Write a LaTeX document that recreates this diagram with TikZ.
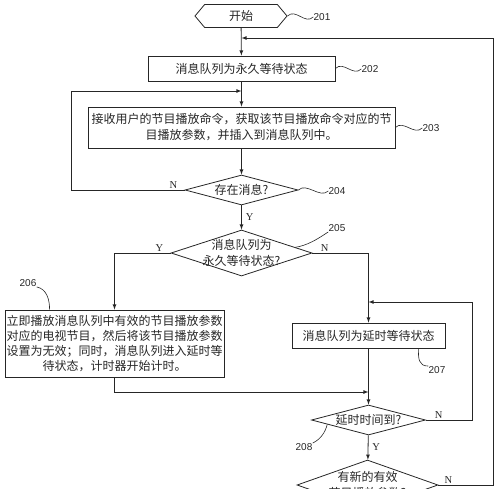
\documentclass[tikz,border=0pt]{standalone}
\usepackage{fontspec}
\setmainfont{Noto Sans CJK SC}
\newfontfamily\numfont{Liberation Sans}
\newfontfamily\ynfont{Liberation Serif}
\usetikzlibrary{shapes.geometric,shapes.symbols}
\tikzset{
    box/.style={draw,rectangle,inner sep=0pt,align=center},
    dec/.style={draw,diamond,inner sep=0pt},
    num/.style={font=\numfont\fontsize{10}{12}\selectfont,inner sep=0pt},
    yn/.style={font=\ynfont\fontsize{10.5}{12}\selectfont,inner sep=1pt},
}
\begin{document}
\begin{tikzpicture}[x=1pt,y=-1pt,color=black!85,line width=0.8pt,
        font=\fontsize{12}{16}\selectfont]
        \useasboundingbox (0,0) rectangle (500,489);
        \clip (0,0) rectangle (500,489);
        % steps
        \node[draw,signal,signal to=west and east,signal pointer angle=100,
              minimum width=92,minimum height=23,inner sep=0pt] (start) at (241,16) {开始};
        \node[box,minimum width=187,minimum height=25] (s202) at (241.5,68.5) {消息队列为永久等待状态};
        \node[box,minimum width=307,minimum height=41] (s203) at (241.5,127.5)
            {接收用户的节目播放命令，获取该节目播放命令对应的节\\目播放参数，并插入到消息队列中。};
        \node[dec,minimum width=113,minimum height=30,label=center:{存在消息?}] (s204) at (241.5,190) {};
        \node[dec,minimum width=141,minimum height=46,
              label={[align=center]center:{消息队列为\\永久等待状态?}}] (s205) at (241.5,253) {};
        \node[box,minimum width=219,minimum height=67,font=\fontsize{12}{15}\selectfont] (s206) at (114.5,343.5)
            {立即播放消息队列中有效的节目播放参数\\对应的电视节目，然后将该节目播放参数\\设置为无效；同时，消息队列进入延时等\\待状态，计时器开始计时。};
        \node[box,minimum width=153,minimum height=25] (s207) at (368.5,335.5) {消息队列为延时等待状态};
        \node[dec,minimum width=114,minimum height=30,label=center:{延时时间到?}] (s208) at (368.5,420) {};
        \node[dec,minimum width=141,minimum height=50,
              label={[align=center]center:{有新的有效\\节目播放参数?}}] (s209) at (367.5,485) {};
        % step numbers
        \begin{scope}[every node/.style={num}]
            \node (n201) at (322,17)  {201};
            \node (n202) at (370,69)  {202};
            \node (n203) at (431,128) {203};
            \node (n204) at (337,191) {204};
            \node (n205) at (337,228) {205};
            \node (n206) at (28,283)  {206};
            \node (n207) at (437,370) {207};
            \node (n208) at (304,447) {208};
        \end{scope}
        \coordinate (j202) at (241.5,38);
        \coordinate (j203) at (241.5,91);
        \coordinate (j207) at (368.5,302);
        \coordinate (j208) at (368.5,392);
        \begin{scope}[-latex]
            \draw (start)--(s202);
            \draw (s202)--(s203);
            \draw (s203)--(s204);
            \draw (s204)--node[yn,right=3pt]{Y}(s205);
            \draw (s204.west)--node[yn,pos=0.1,above]{N}++(-113,0)|-(j203);
            \draw (s205.west)-|node[yn,pos=0.1,above]{Y}(s206.north);
            \draw (s205.east)-|node[yn,pos=0.11,above]{N}(s207.north);
            \draw (s206.south)|-(j208);
            \draw (s207)--(s208);
            \draw (s208)--node[yn,right=3pt]{Y}(s209);
            \draw (s208.east)--node[yn,pos=0.28,above]{N}++(46,0)|-(j207);
            \draw (s209.east)--node[yn,pos=0.18,above]{N}++(55,0)|-(j202);
        \end{scope}
        % squiggles
        \begin{scope}[line width=0.6pt]
            \draw (start.east) .. controls +(8,-8) and +(-8,8) .. (n201.west);
            \draw (s202.east) .. controls +(8,-8) and +(-8,8) .. (n202.west);
            \draw (s203.east) .. controls +(8,-8) and +(-8,8) .. (n203.west);
            \draw (s204.east) .. controls +(8,-8) and +(-8,8) .. (n204.west);
            \draw (s205.6) .. controls +(12,-2) and +(-12,8) .. (n205.south west);
            \draw (n206.south east) .. controls +(10,2) and +(0,-10) .. ([xshift=45pt]s206.north west);
            \draw ([xshift=-27pt]s207.south east) .. controls +(0,10) and +(-10,0) .. (n207.north west);
            \draw (s208.186) .. controls +(-2,8) and +(8,-4) .. (n208.north east);
        \end{scope}
\end{tikzpicture}
\end{document}
